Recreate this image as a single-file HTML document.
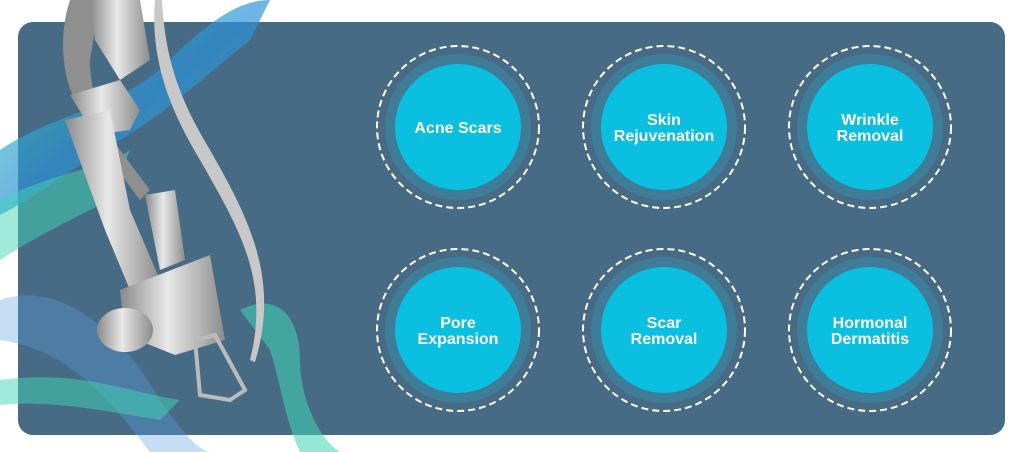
<!DOCTYPE html>
<html><head><meta charset="utf-8"><style>
html,body{margin:0;padding:0;background:#fff;width:1024px;height:452px;overflow:hidden;font-family:"Liberation Sans",sans-serif}
</style></head><body>
<svg width="1024" height="452" viewBox="0 0 1024 452" xmlns="http://www.w3.org/2000/svg">
<defs>
<linearGradient id="rib" x1="0" y1="0" x2="1" y2="1">
<stop offset="0" stop-color="#3fe0b0" stop-opacity=".8"/><stop offset=".5" stop-color="#2a8fd8" stop-opacity=".8"/><stop offset="1" stop-color="#3fd0c0" stop-opacity=".7"/></linearGradient>
<linearGradient id="metal" x1="0" y1="0" x2="1" y2="0">
<stop offset="0" stop-color="#8a8a8a"/><stop offset=".45" stop-color="#e8e8e8"/><stop offset="1" stop-color="#8c8c8c"/></linearGradient>
</defs>
<rect x="18" y="22" width="987" height="413" rx="15" fill="#486b85"/>
<path d="M0 150 C60 110 120 110 170 60 C210 20 240 0 270 0 L250 40 C200 80 170 110 120 140 C70 170 30 200 0 215Z" fill="url(#rib)" opacity=".85"/>
<path d="M0 200 C60 170 100 170 130 150 L110 200 C70 220 30 240 0 260Z" fill="#3fd6b5" opacity=".5"/>
<path d="M0 300 C60 280 120 330 160 400 C180 430 200 452 210 452 L150 452 C110 400 70 350 0 340Z" fill="#5aa0e0" opacity=".35"/>
<path d="M0 380 C80 370 120 390 180 400 L160 420 C100 410 50 400 0 405Z" fill="#3fd6b5" opacity=".5"/>
<path d="M240 310 C280 290 300 320 300 360 C300 400 320 440 340 452 L300 452 C285 420 280 380 270 350Z" fill="#3fd6b5" opacity=".55"/>
<path d="M70 0 C60 30 60 70 75 100 C85 120 90 140 110 160 L140 200 L150 190 L120 150 C100 120 90 90 90 60 L100 0Z" fill="#8f8f8f"/>
<path d="M155 0 C150 60 170 110 200 160 C240 230 270 280 250 360 L255 362 C280 280 250 220 210 150 C180 100 165 60 162 0Z" fill="#c8c8c8"/>
<path d="M90 0 L140 0 L150 60 L120 80 L95 40Z" fill="url(#metal)"/>
<path d="M70 95 L120 80 L140 110 L130 130 L95 135 Z" fill="url(#metal)"/>
<path d="M65 120 L110 110 L130 210 L160 280 L130 290 L105 230 Z" fill="url(#metal)"/>
<path d="M145 195 L175 190 L185 260 L160 270 Z" fill="url(#metal)"/>
<path d="M120 290 L210 255 L225 340 L175 355 L125 335 Z" fill="url(#metal)"/>
<ellipse cx="125" cy="330" rx="28" ry="22" fill="url(#metal)"/>
<path d="M195 340 L215 335 L245 390 L230 400 L200 395 Z" fill="none" stroke="#bbb" stroke-width="4"/>
<g font-weight="bold" font-size="16" fill="#fff" text-anchor="middle">
<g transform="translate(458,127)"><circle r="81" fill="none" stroke="#fff" stroke-width="2" stroke-dasharray="7 4"/><circle r="73" fill="#3f7c98"/><circle r="63" fill="#0bbfe0"/><text y="6">Acne Scars</text></g>
<g transform="translate(664,127)"><circle r="81" fill="none" stroke="#fff" stroke-width="2" stroke-dasharray="7 4"/><circle r="73" fill="#3f7c98"/><circle r="63" fill="#0bbfe0"/><text y="-2">Skin</text><text y="14">Rejuvenation</text></g>
<g transform="translate(870,127)"><circle r="81" fill="none" stroke="#fff" stroke-width="2" stroke-dasharray="7 4"/><circle r="73" fill="#3f7c98"/><circle r="63" fill="#0bbfe0"/><text y="-2">Wrinkle</text><text y="14">Removal</text></g>
<g transform="translate(458,330)"><circle r="81" fill="none" stroke="#fff" stroke-width="2" stroke-dasharray="7 4"/><circle r="73" fill="#3f7c98"/><circle r="63" fill="#0bbfe0"/><text y="-2">Pore</text><text y="14">Expansion</text></g>
<g transform="translate(664,330)"><circle r="81" fill="none" stroke="#fff" stroke-width="2" stroke-dasharray="7 4"/><circle r="73" fill="#3f7c98"/><circle r="63" fill="#0bbfe0"/><text y="-2">Scar</text><text y="14">Removal</text></g>
<g transform="translate(870,330)"><circle r="81" fill="none" stroke="#fff" stroke-width="2" stroke-dasharray="7 4"/><circle r="73" fill="#3f7c98"/><circle r="63" fill="#0bbfe0"/><text y="-2">Hormonal</text><text y="14">Dermatitis</text></g>
</g>
</svg>
</body></html>
